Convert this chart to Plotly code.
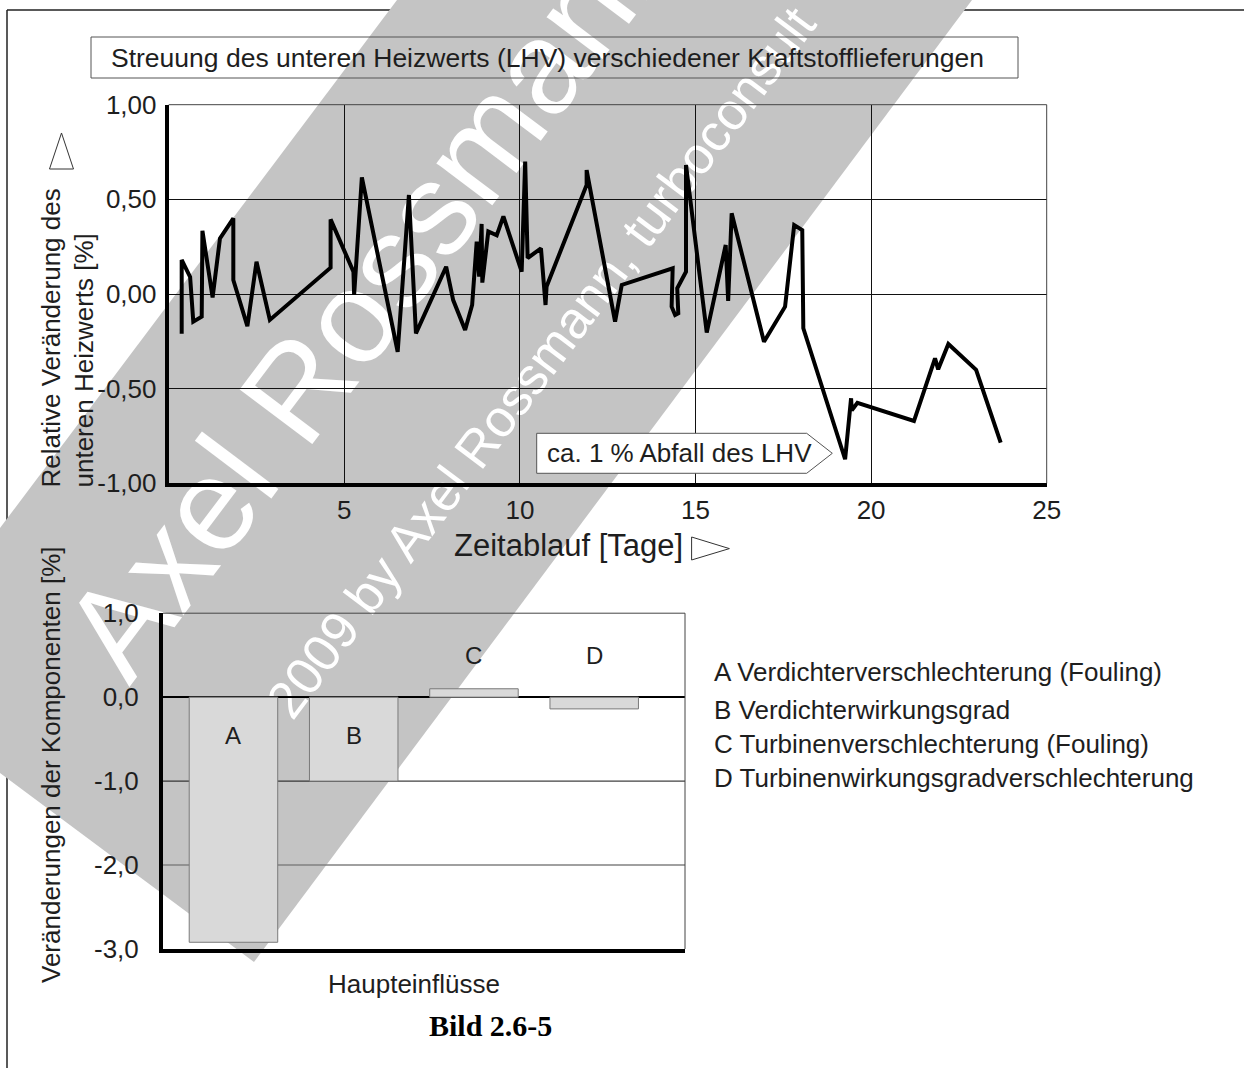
import plotly.graph_objects as go

W, H = 1244, 1068
FONT = "Liberation Sans, Arial, sans-serif"
INK = "#1e1e1e"

# Relative change of the lower heating value over time (days, %)
days = [0.37, 0.37, 0.61, 0.70, 0.94, 0.96, 1.25, 1.46, 1.84, 1.84,
        2.24, 2.50, 2.88, 4.61, 4.61, 5.26, 5.28, 5.50, 6.52, 6.84,
        7.04, 7.90, 8.10, 8.44, 8.64, 8.77, 8.84, 8.91, 8.93, 9.10,
        9.34, 9.53, 10.05, 10.15, 10.22, 10.60, 10.73, 10.76, 11.90, 11.90,
        12.71, 12.90, 14.35, 14.32, 14.42, 14.51, 14.48, 14.73, 14.73, 15.32,
        15.86, 15.93, 16.03, 16.95, 17.55, 17.81, 18.04, 18.07, 19.26, 19.43,
        19.45, 19.61, 21.22, 21.82, 21.91, 22.20, 22.99, 23.69]
lhv_change = [-0.21, 0.18, 0.09, -0.146, -0.12, 0.334, -0.018, 0.294, 0.40, 0.074,
              -0.17, 0.17, -0.137, 0.139, 0.394, 0.118, -0.005, 0.616, -0.305, 0.523,
              -0.208, 0.144, -0.032, -0.19, -0.058, 0.276, 0.092, 0.37, 0.06, 0.33,
              0.31, 0.41, 0.118, 0.70, 0.19, 0.241, -0.058, 0.04, 0.576, 0.655,
              -0.146, 0.048, 0.136, -0.067, -0.111, -0.102, 0.03, 0.118, 0.681, -0.204,
              0.259, -0.037, 0.426, -0.252, -0.067, 0.364, 0.338, -0.181, -0.873, -0.551,
              -0.615, -0.575, -0.671, -0.34, -0.398, -0.264, -0.401, -0.785]

# Main influences on the components (%)
components = ["A", "B", "C", "D"]
component_change = [-2.92, -1.0, 0.1, -0.14]
component_names = [
    "A Verdichterverschlechterung (Fouling)",
    "B Verdichterwirkungsgrad",
    "C Turbinenverschlechterung (Fouling)",
    "D Turbinenwirkungsgradverschlechterung",
]

day_ticks = [5, 10, 15, 20, 25]
lhv_ticks = [-1, -0.5, 0, 0.5, 1]
lhv_ticklabels = ["-1,00", "-0,50", "0,00", "0,50", "1,00"]
comp_ticks = [-3, -2, -1, 0, 1]
comp_ticklabels = ["-3,0", "-2,0", "-1,0", "0,0", "1,0"]

# copyright lettering across the sheet
watermark_text = ["Axel Rossmann,", "2009 by Axel Rossmann, turboconsult"]


def px(x):
    return x / W


def py(y):
    return 1 - y / H


def poly(points, close=True):
    d = "M " + " L ".join(f"{px(x):.5f},{py(y):.5f}" for x, y in points)
    return d + (" Z" if close else "")


fig = go.Figure()

# Background layer (page pixel axes): the rotated copyright lettering sits
# inside large transparent boxes, so that it is painted beneath both charts.
wm_cx, wm_cy = [382, 541], [276, 362]
wm_box = 1200
fig.add_trace(go.Bar(
    x=wm_cx, y=[wm_box, wm_box], base=[c - wm_box / 2 for c in wm_cy],
    width=[wm_box, wm_box], text=watermark_text,
    textposition="inside", insidetextanchor="middle", textangle=-53,
    insidetextfont=dict(family=FONT, size=[132, 52], color="white"),
    marker=dict(color="rgba(0,0,0,0)", line=dict(width=0)),
    cliponaxis=False, xaxis="x", yaxis="y", showlegend=False, hoverinfo="skip",
))

fig.add_trace(go.Scatter(
    x=days, y=lhv_change, mode="lines",
    line=dict(color="black", width=4),
    xaxis="x2", yaxis="y2", showlegend=False, hoverinfo="skip",
))

fig.add_trace(go.Bar(
    x=components, y=component_change, width=0.736,
    marker=dict(color="#d9d9d9", line=dict(color="#7a7a7a", width=1)),
    xaxis="x3", yaxis="y3", showlegend=False, hoverinfo="skip",
))

tickfont = dict(family=FONT, size=26, color=INK)
hidden = dict(visible=False, showgrid=False, zeroline=False, showticklabels=False,
              fixedrange=True, automargin=False)

fig.update_layout(
    width=W, height=H, autosize=False,
    margin=dict(l=0, r=0, t=0, b=0, pad=0, autoexpand=False),
    paper_bgcolor="white", plot_bgcolor="rgba(0,0,0,0)",
    font=dict(family=FONT, color=INK),
    barmode="overlay",
    xaxis=dict(domain=[0, 1], range=[0, W], anchor="y", **hidden),
    yaxis=dict(domain=[0, 1], range=[H, 0], anchor="x", **hidden),
    xaxis2=dict(
        domain=[px(168.7), px(1046.7)], range=[0, 25], anchor="y2", automargin=False,
        tickvals=day_ticks, ticktext=[str(v) for v in day_ticks],
        showgrid=True, gridcolor="#111", gridwidth=1, zeroline=False,
        showline=True, linecolor="black", linewidth=4,
        ticks="", tickfont=tickfont,
    ),
    yaxis2=dict(
        domain=[py(483.3), py(104.7)], range=[-1, 1], anchor="x2", automargin=False,
        tickvals=lhv_ticks, ticktext=lhv_ticklabels,
        showgrid=True, gridcolor="#111", gridwidth=1, zeroline=False,
        showline=True, linecolor="black", linewidth=4,
        ticks="outside", ticklen=3, tickcolor="rgba(0,0,0,0)",
        tickfont=tickfont,
    ),
    xaxis3=dict(
        domain=[px(163), px(685)], range=[-0.586, 3.755], anchor="y3", automargin=False,
        type="category", showticklabels=False, showgrid=False, zeroline=False,
        showline=True, linecolor="black", linewidth=4, ticks="",
    ),
    yaxis3=dict(
        domain=[py(949), py(613.2)], range=[-3, 1], anchor="x3", automargin=False,
        tickvals=comp_ticks, ticktext=comp_ticklabels,
        showgrid=False, zeroline=True, zerolinecolor="black", zerolinewidth=2,
        showline=True, linecolor="black", linewidth=4,
        ticks="outside", ticklen=15, tickcolor="rgba(0,0,0,0)",
        tickfont=tickfont,
    ),
)

shapes = []
# page frame
shapes.append(dict(type="line", xref="paper", yref="paper", x0=px(7), y0=py(10), x1=1, y1=py(10),
                   line=dict(color="#222", width=1.5), layer="below"))
shapes.append(dict(type="line", xref="paper", yref="paper", x0=px(7), y0=py(10), x1=px(7), y1=0,
                   line=dict(color="#222", width=1.5), layer="below"))
# diagonal copyright band
shapes.append(dict(type="path", xref="paper", yref="paper", layer="below",
                   path=poly([(397, 0), (972, 0), (254, 962), (0, 773), (0, 528)]),
                   fillcolor="rgb(196,196,196)", line=dict(width=0)))
# frame of the heading
shapes.append(dict(type="rect", xref="paper", yref="paper", layer="above",
                   x0=px(91), x1=px(1018), y0=py(78), y1=py(37),
                   fillcolor="rgba(0,0,0,0)", line=dict(color="#555", width=1)))
# thin top / right frame of the upper plot
shapes.append(dict(type="line", xref="x2 domain", yref="y2 domain", x0=0, x1=1, y0=1, y1=1,
                   line=dict(color="#444", width=1)))
shapes.append(dict(type="line", xref="x2 domain", yref="y2 domain", x0=1, x1=1, y0=0, y1=1,
                   line=dict(color="#444", width=1)))
# thin top / right frame of the lower plot
shapes.append(dict(type="line", xref="x3 domain", yref="y3 domain", x0=0, x1=1, y0=1, y1=1,
                   line=dict(color="#444", width=1)))
shapes.append(dict(type="line", xref="x3 domain", yref="y3 domain", x0=1, x1=1, y0=0, y1=1,
                   line=dict(color="#444", width=1)))
# grid of the lower plot
shapes.append(dict(type="line", xref="x3 domain", yref="y3", x0=0, x1=1, y0=-1, y1=-1,
                   line=dict(color="#111", width=1), layer="below"))
shapes.append(dict(type="line", xref="x3 domain", yref="y3", x0=0, x1=1, y0=-2, y1=-2,
                   line=dict(color="#808080", width=1.5), layer="below"))
# note box with arrow tip
shapes.append(dict(type="path", xref="paper", yref="paper", layer="above",
                   path=poly([(536.7, 433.3), (806.7, 433.3), (832.3, 453.3), (806.7, 473.3), (536.7, 473.3)]),
                   fillcolor="white", line=dict(color="#555", width=1)))
# direction triangles next to the axis titles
shapes.append(dict(type="path", xref="paper", yref="paper", layer="above",
                   path=poly([(49.5, 169), (61.5, 133), (73.5, 169)]),
                   fillcolor="rgba(0,0,0,0)", line=dict(color="#333", width=1)))
shapes.append(dict(type="path", xref="paper", yref="paper", layer="above",
                   path=poly([(691.6, 537), (729.4, 548.6), (691.6, 560)]),
                   fillcolor="rgba(0,0,0,0)", line=dict(color="#333", width=1)))
fig.update_layout(shapes=shapes)

ann = []


def text(x, y, s, size=26, **kw):
    d = dict(xref="paper", yref="paper", x=px(x), y=py(y), text=s, showarrow=False,
             font=dict(family=kw.pop("family", FONT), size=size, color=kw.pop("color", INK)),
             xanchor=kw.pop("xanchor", "center"), yanchor=kw.pop("yanchor", "middle"))
    d.update(kw)
    ann.append(d)


text(547.5, 57.5, "Streuung des unteren Heizwerts (LHV) verschiedener Kraftstofflieferungen", size=26.5)
text(68, 338.5, "Relative Veränderung des<br>unteren Heizwerts [%]", textangle=-90, align="left")
text(568, 545, "Zeitablauf [Tage]", size=31)
text(679.7, 453, "ca. 1 % Abfall des LHV")

text(51, 765, "Veränderungen der Komponenten [%]", textangle=-90)
text(414.5, 984, "Haupteinflüsse")
for name, yy in zip(component_names, [672, 709.7, 743.9, 777.7]):
    text(712, yy, name, xanchor="left")

for comp, val in zip(components, component_change):
    yy = 735.5 if val <= -0.5 else 655.4
    ann.append(dict(xref="x3", yref="paper", x=comp, y=py(yy), text=comp, showarrow=False,
                    font=dict(family=FONT, size=24, color=INK), xanchor="center", yanchor="middle"))

text(490, 1025, "<b>Bild 2.6-5</b>", size=30, family="Liberation Serif, Times New Roman, serif", color="black")

fig.update_layout(annotations=ann)

fig.write_html("out.html")
